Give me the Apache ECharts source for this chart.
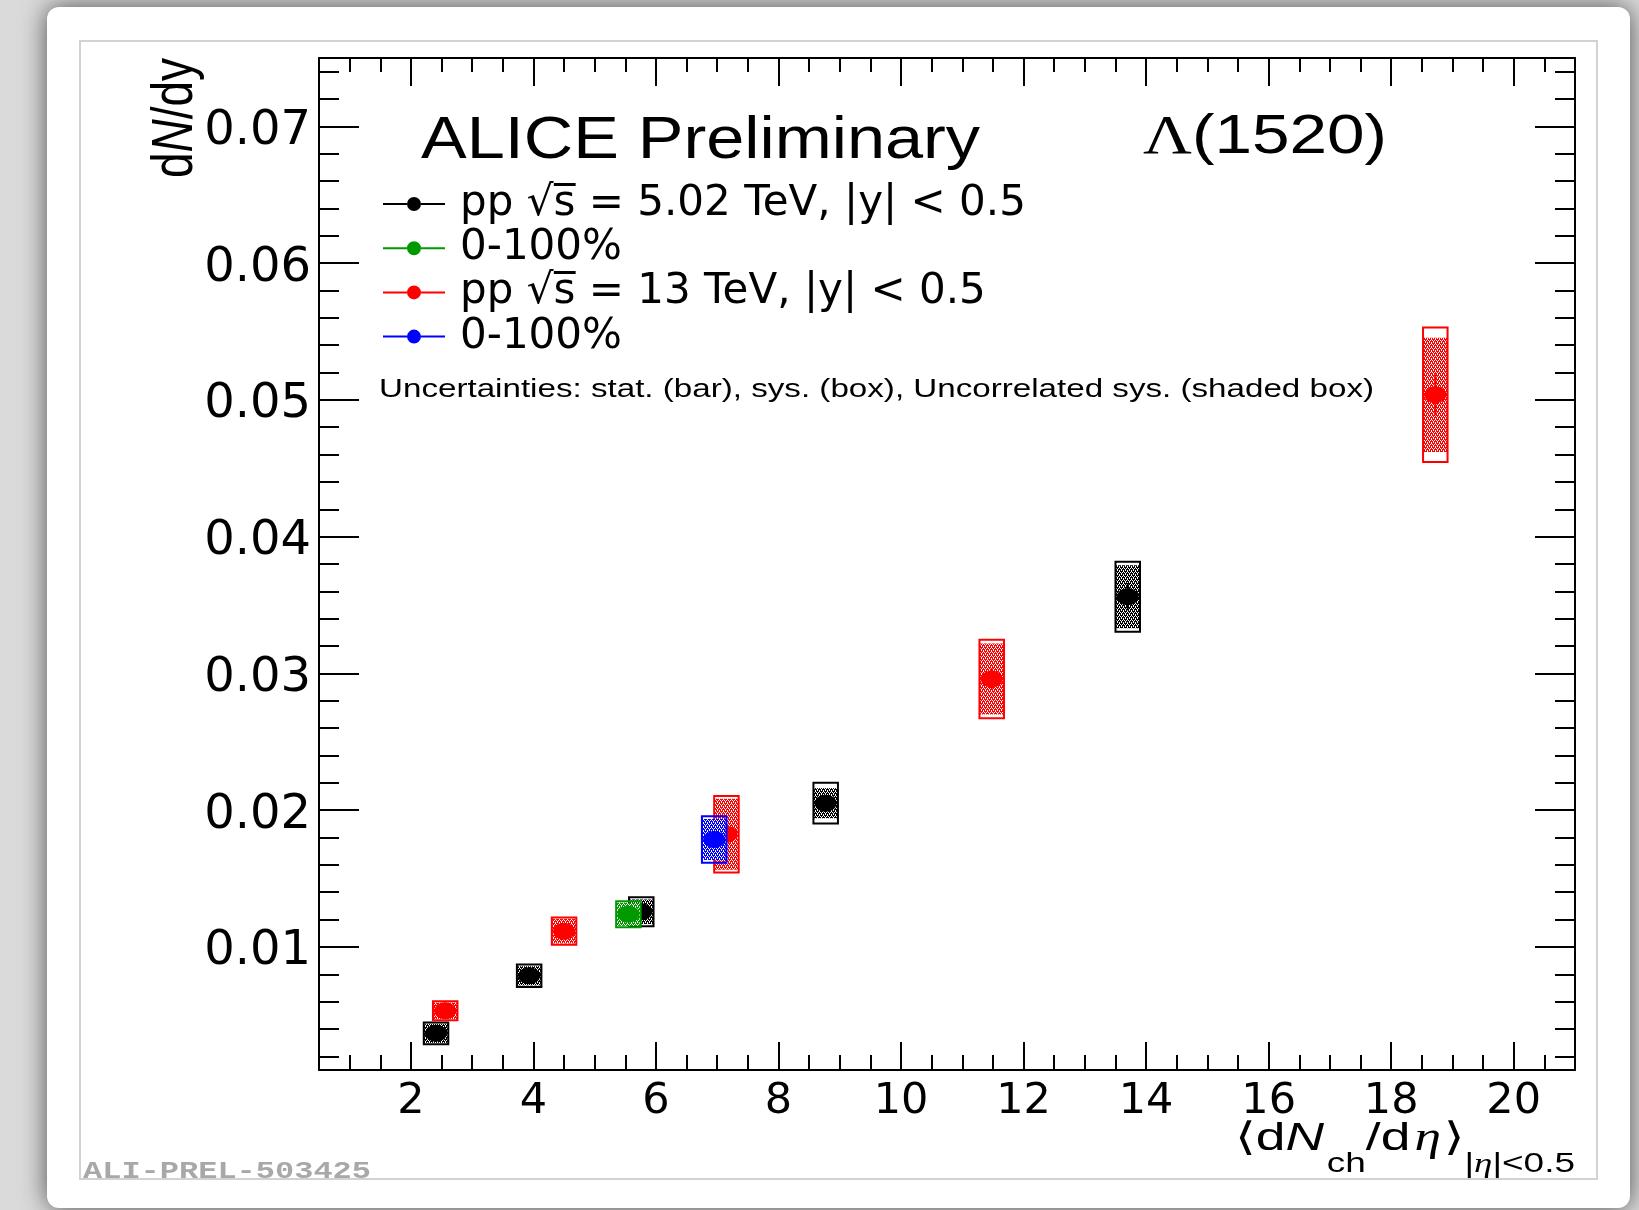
<!DOCTYPE html>
<html>
<head>
<meta charset="utf-8">
<title>Λ(1520) dN/dy vs multiplicity</title>
<script src="https://cdn.jsdelivr.net/npm/echarts@6/dist/echarts.min.js"></script>
<style>
  html, body { margin: 0; padding: 0; background: #dedede; }
  #main { width: 1639px; height: 1210px; }
</style>
</head>
<body>
<div id="main"></div>
<script>
// ---- Λ(1520) yields: pp at 5.02 TeV (black, MB green) and 13 TeV (red, MB blue) ----
const pp5X    = [2.41, 3.93, 5.76, 8.77, 13.70];
const pp5Y    = [0.00368, 0.00789, 0.01257, 0.02051, 0.03561];
const pp5Stat = [0.0002, 0.0003, 0.0004, 0.0006, 0.0010];
const pp5Sys  = [0.00079, 0.00082, 0.00106, 0.00149, 0.00256];
const pp5Unc  = [0.0007, 0.0007, 0.0009, 0.0011, 0.0023];

const pp5MbX    = [5.55];
const pp5MbY    = [0.01239];
const pp5MbStat = [0.0003];
const pp5MbSys  = [0.00095];
const pp5MbUnc  = [0.00085];

const pp13X    = [2.56, 4.50, 7.15, 11.48, 18.72];
const pp13Y    = [0.00533, 0.01115, 0.01824, 0.02959, 0.05037];
const pp13Stat = [0.0002, 0.0003, 0.0005, 0.0008, 0.0015];
const pp13Sys  = [0.0007, 0.0010, 0.0028, 0.00287, 0.00492];
const pp13Unc  = [0.0006, 0.0009, 0.0026, 0.0026, 0.00418];

const pp13MbX    = [6.95];
const pp13MbY    = [0.01786];
const pp13MbStat = [0.0005];
const pp13MbSys  = [0.0017];
const pp13MbUnc  = [0.0015];

const seriesNames = ['pp √s̅ = 5.02 TeV, |y| < 0.5', '0-100% (5.02)', 'pp √s̅ = 13 TeV, |y| < 0.5', '0-100% (13)'];
const legendLabels = {
  '0-100% (5.02)': '0-100%',
  '0-100% (13)': '0-100%'
};

// axis ranges and tick labels
const X_MIN = 0.5, X_MAX = 21;
const Y_MIN = 0.001, Y_MAX = 0.075;
const xMajorTicks = [2, 4, 6, 8, 10, 12, 14, 16, 18, 20];
const yMajorTicks = [0.01, 0.02, 0.03, 0.04, 0.05, 0.06, 0.07];

// minor ticks: 4 divisions per x label, 5 per y label
const xMinorTicks = [];
for (let k = 2; k <= 41; k++) xMinorTicks.push(k * 0.5);
const yMinorTicks = [];
for (let k = 1; k <= 37; k++) yMinorTicks.push(Math.round(k * 2) / 1000);

const COLORS = ['#000000', '#009a00', '#ff0000', '#0000ff'];
const BOX_HALF = 0.2;

function rows(xs, ys, sys, unc, stat) {
  return xs.map((x, i) => [x, ys[i], sys[i], unc[i], stat[i]]);
}
const seriesData = [
  rows(pp5X, pp5Y, pp5Sys, pp5Unc, pp5Stat),
  rows(pp5MbX, pp5MbY, pp5MbSys, pp5MbUnc, pp5MbStat),
  rows(pp13X, pp13Y, pp13Sys, pp13Unc, pp13Stat),
  rows(pp13MbX, pp13MbY, pp13MbSys, pp13MbUnc, pp13MbStat)
];

// dotted fill used for the uncorrelated systematic boxes
const DOT_TILE = ['WCWC', 'CWCC', 'CWCW', 'CCCW'];
function dotPattern(color) {
  const c = document.createElement('canvas');
  c.width = 4; c.height = 4;
  const g = c.getContext('2d');
  DOT_TILE.forEach((row, j) => {
    for (let i = 0; i < 4; i++) {
      g.fillStyle = row[i] === 'W' ? '#ffffff' : color;
      g.fillRect(i, j, 1, 1);
    }
  });
  return c;
}
const patterns = COLORS.map(dotPattern);

function makeRenderItem(idx) {
  const color = COLORS[idx];
  return function (params, api) {
    const x = api.value(0), y = api.value(1);
    const sys = api.value(2), unc = api.value(3), stat = api.value(4);
    const c = api.coord([x, y]);
    const l = api.coord([x - BOX_HALF, y])[0];
    const r = api.coord([x + BOX_HALF, y])[0];
    const sTop = api.coord([x, y + sys])[1], sBot = api.coord([x, y - sys])[1];
    const uTop = api.coord([x, y + unc])[1], uBot = api.coord([x, y - unc])[1];
    const eTop = api.coord([x, y + stat])[1], eBot = api.coord([x, y - stat])[1];
    return {
      type: 'group',
      children: [
        { type: 'rect', shape: { x: l, y: uTop, width: r - l, height: uBot - uTop },
          style: { fill: { image: patterns[idx], repeat: 'repeat' }, stroke: null } },
        { type: 'rect', shape: { x: l, y: sTop, width: r - l, height: sBot - sTop },
          style: { fill: null, stroke: color, lineWidth: 2 } },
        { type: 'line', shape: { x1: c[0], y1: eTop, x2: c[0], y2: eBot },
          style: { stroke: color, lineWidth: 2 } },
        { type: 'ellipse', shape: { cx: c[0], cy: c[1], rx: 11, ry: 8.5 },
          style: { fill: color, stroke: null } }
      ]
    };
  };
}

// ---- text helpers: runs of mixed-font text, stretched to a width ----
const mctx = document.createElement('canvas').getContext('2d');
function fontStr(s) {
  return (s.style || 'normal') + ' ' + (s.weight || 'normal') + ' ' + s.size + 'px "' + s.family + '"';
}
function measure(s) { mctx.font = fontStr(s); return mctx.measureText(s.text).width; }
function middleToBaseline(s) {
  mctx.font = fontStr(s);
  mctx.textBaseline = 'middle';
  const a = mctx.measureText('H').actualBoundingBoxDescent;
  mctx.textBaseline = 'alphabetic';
  const b = mctx.measureText('H').actualBoundingBoxDescent;
  return a - b;
}
function textRun(segs, o) {
  let cur = 0;
  const kids = [];
  segs.forEach(s => {
    const w = measure(s);
    kids.push({
      type: 'text', x: cur, y: (s.dy || 0) - middleToBaseline(s),
      style: { text: s.text, font: fontStr(s), fill: o.color || '#000',
               textAlign: 'left', align: 'left', textVerticalAlign: 'middle', verticalAlign: 'middle' }
    });
    cur += w + (s.gap || 0);
  });
  if (o.anchor === 'right') kids.forEach(k => { k.x -= cur; });
  return {
    type: 'group', x: o.x, y: o.y, z: 20,
    rotation: o.rotation || 0,
    scaleX: o.width ? o.width / cur : (o.scaleX || 1),
    scaleY: o.scaleY || 1,
    children: kids
  };
}

const SANS = 'Liberation Sans', SERIF = 'Liberation Serif', DJ = 'DejaVu Sans';

// legend font sized so the first entry spans its row
const legendFont = 40 * 566 / measure({ text: seriesNames[0], size: 40, family: DJ });

function xAxisDef(position, ticks, len, line, labels) {
  return {
    type: 'value', position: position, min: X_MIN, max: X_MAX,
    axisLine: { show: line, onZero: false, lineStyle: { color: '#000', width: 2 } },
    axisTick: { show: true, inside: true, length: len, customValues: ticks,
                lineStyle: { color: '#000', width: 2 } },
    axisLabel: labels ? {
      show: true, customValues: xMajorTicks, margin: 10,
      fontFamily: DJ, fontSize: 43, color: '#000'
    } : { show: false },
    splitLine: { show: false }, minorTick: { show: false }
  };
}
function yAxisDef(position, ticks, len, line, labels) {
  return {
    type: 'value', position: position, min: Y_MIN, max: Y_MAX,
    axisLine: { show: line, onZero: false, lineStyle: { color: '#000', width: 2 } },
    axisTick: { show: true, inside: true, length: len, customValues: ticks,
                lineStyle: { color: '#000', width: 2 } },
    axisLabel: labels ? {
      show: true, customValues: yMajorTicks, margin: 8,
      fontFamily: DJ, fontSize: 48, color: '#000',
      verticalAlign: 'top', lineHeight: 10,
      formatter: v => v.toFixed(2)
    } : { show: false },
    splitLine: { show: false }, minorTick: { show: false }
  };
}

const option = {
  backgroundColor: '#dadada',
  animation: false,
  grid: { left: 319, right: 64, top: 58, bottom: 140, containLabel: false },
  xAxis: [
    xAxisDef('bottom', xMajorTicks, 28, true, true),
    xAxisDef('bottom', xMinorTicks, 15, false, false),
    xAxisDef('top', xMajorTicks, 28, true, false),
    xAxisDef('top', xMinorTicks, 14, false, false)
  ],
  yAxis: [
    yAxisDef('left', yMajorTicks, 40, true, true),
    yAxisDef('left', yMinorTicks, 20, false, false),
    yAxisDef('right', yMajorTicks, 40, true, false),
    yAxisDef('right', yMinorTicks, 20, false, false)
  ],
  legend: {
    orient: 'vertical', left: 383, top: 183, padding: 0,
    itemWidth: 62, itemHeight: 14, itemGap: 2.2,
    selectedMode: false,
    icon: 'path://M0,7L24,7L24,9L0,9Z M38,7L62,7L62,9L38,9Z M24,8a7,7 0 1,1 14,0a7,7 0 1,1 -14,0Z',
    itemStyle: { borderWidth: 0 },
    formatter: name => legendLabels[name] || name,
    textStyle: { fontFamily: DJ, fontSize: legendFont, lineHeight: 40, color: '#000',
                 padding: [0, 0, 0, 10] },
    data: seriesNames
  },
  series: seriesData.map((d, i) => ({
    type: 'custom',
    name: seriesNames[i],
    xAxisIndex: 0, yAxisIndex: 0,
    itemStyle: { color: COLORS[i] },
    encode: { x: 0, y: 1 },
    renderItem: makeRenderItem(i),
    data: d,
    z: 5 + i
  })),
  graphic: { elements: [
    // card and canvas border
    { type: 'rect', z: -10, shape: { x: 47, y: 7, width: 1583, height: 1201, r: 12 },
      style: { fill: '#ffffff', shadowBlur: 26, shadowColor: 'rgba(0,0,0,0.65)' } },
    { type: 'rect', z: -9, shape: { x: 80, y: 41, width: 1517, height: 1138 },
      style: { fill: '#ffffff', stroke: '#d2d2d2', lineWidth: 2 } },
    textRun([{ text: 'ALICE Preliminary', family: SANS, size: 59 }],
            { x: 421, y: 158, width: 559 }),
    textRun([{ text: 'Λ', family: SERIF, size: 55 }, { text: '(1520)', family: SANS, size: 55 }],
            { x: 1143, y: 152.5, width: 244 }),
    textRun([{ text: 'Uncertainties: stat. (bar), sys. (box), Uncorrelated sys. (shaded box)', family: SANS, size: 26 }],
            { x: 379, y: 396.5, width: 995 }),
    // y axis title
    textRun([{ text: 'd', family: SANS, size: 46 },
             { text: 'N', family: SANS, size: 46, style: 'italic' },
             { text: '/dy', family: SANS, size: 46 }],
            { x: 192, y: 178, width: 120, scaleY: 1.25, rotation: Math.PI / 2 }),
    // x axis title
    textRun([{ text: '⟨', family: DJ, size: 39 },
             { text: 'd', family: SANS, size: 39 },
             { text: 'N', family: SANS, size: 39, style: 'italic', gap: 2 },
             { text: 'ch', family: SANS, size: 27, dy: 22 },
             { text: '/d', family: SANS, size: 39, gap: 3 },
             { text: 'η', family: SERIF, size: 39, style: 'italic', gap: 2 },
             { text: '⟩', family: DJ, size: 39 },
             { text: '|', family: SANS, size: 27, dy: 22 },
             { text: 'η', family: SERIF, size: 27, style: 'italic', dy: 22 },
             { text: '|<0.5', family: SANS, size: 27, dy: 22 }],
            { x: 1575, y: 1150, width: 340, anchor: 'right' }),
    textRun([{ text: 'ALI-PREL-503425', family: 'Liberation Mono', weight: 'bold', size: 24 }],
            { x: 83, y: 1177.5, width: 288, color: '#a8a8a8' })
  ] }
};

const chart = echarts.init(document.getElementById('main'), null, { renderer: 'canvas' });
chart.setOption(option);
</script>
</body>
</html>
